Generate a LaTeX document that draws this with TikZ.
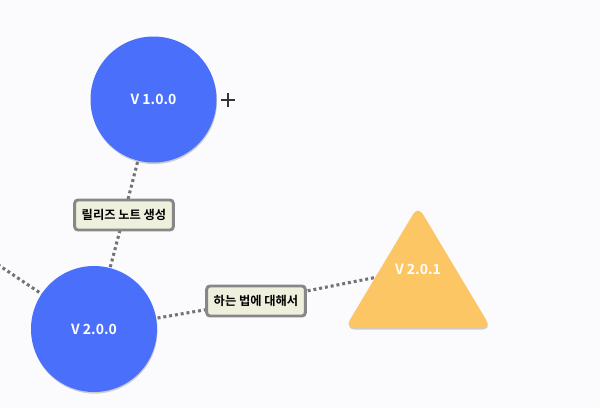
\documentclass[tikz,border=0pt]{standalone}
\usepackage{fontspec}
\setmainfont{Noto Sans CJK KR Bold}
\usetikzlibrary{shadows,backgrounds}
\definecolor{bg}{HTML}{FBFAFD}
\definecolor{vblue}{HTML}{4A70FB}
\definecolor{vyellow}{HTML}{FDC664}
\definecolor{lblfill}{HTML}{EEEFDC}
\definecolor{lbldraw}{HTML}{878787}
\definecolor{dotgray}{HTML}{737373}
\tikzset{
  vcircle/.style={circle, fill=vblue, minimum size=94.5pt, inner sep=0pt,
    text=white, font=\fontsize{10.5}{12}\selectfont,
    drop shadow={shadow xshift=0.4pt, shadow yshift=-1.2pt, fill=black, opacity=0.18}},
  lbl/.style={draw=lbldraw, line width=2.2pt, fill=lblfill, rounded corners=2.5pt,
    minimum width=74pt, minimum height=22.5pt, inner sep=1pt,
    font=\fontsize{9.2}{11}\selectfont},
  conn/.style={draw=dotgray, line width=2.3pt, dash pattern=on 2.2pt off 2.2pt},
  ttext/.style={text=white, font=\fontsize{10.5}{12}\selectfont},
}
\begin{document}
\begin{tikzpicture}[x=0.75pt,y=-0.75pt]
\useasboundingbox (0,0) rectangle (600,408);
\clip (0,0) rectangle (600,408);
% nodes
\node[vcircle] (v1) at (153.5,99.5) {V 1.0.0};
\node[vcircle] (v2) at (94,329) {V 2.0.0};
\fill[vyellow, rounded corners=7pt,
  drop shadow={shadow xshift=0.4pt, shadow yshift=-1.2pt, fill=black, opacity=0.18}]
  (418,206) -- (491,328) -- (345,328) -- cycle;
\node[ttext] (tri) at (418,269) {V 2.0.1};
\node[lbl] (l1) at (124,215) {릴리즈 노트 생성};
\node[lbl] (l2) at (256,301) {하는 법에 대해서};
\coordinate (off) at (-12,258);
% connectors
\begin{pgfonlayer}{background}
\fill[bg] (0,0) rectangle (600,408);
\draw[conn] (v1.center) -- (l1.center) -- (v2.center);
\draw[conn] (off) -- (v2.center);
\draw[conn] (v2.center) -- (l2.center) -- (tri.center);
\end{pgfonlayer}
% cursor
\coordinate (cur) at (228,100);
\draw[black!80, line width=0.8pt] ([xshift=-5.5pt]cur) -- ([xshift=5.5pt]cur)
  ([yshift=-5.5pt]cur) -- ([yshift=5.5pt]cur);
\end{tikzpicture}
\end{document}
